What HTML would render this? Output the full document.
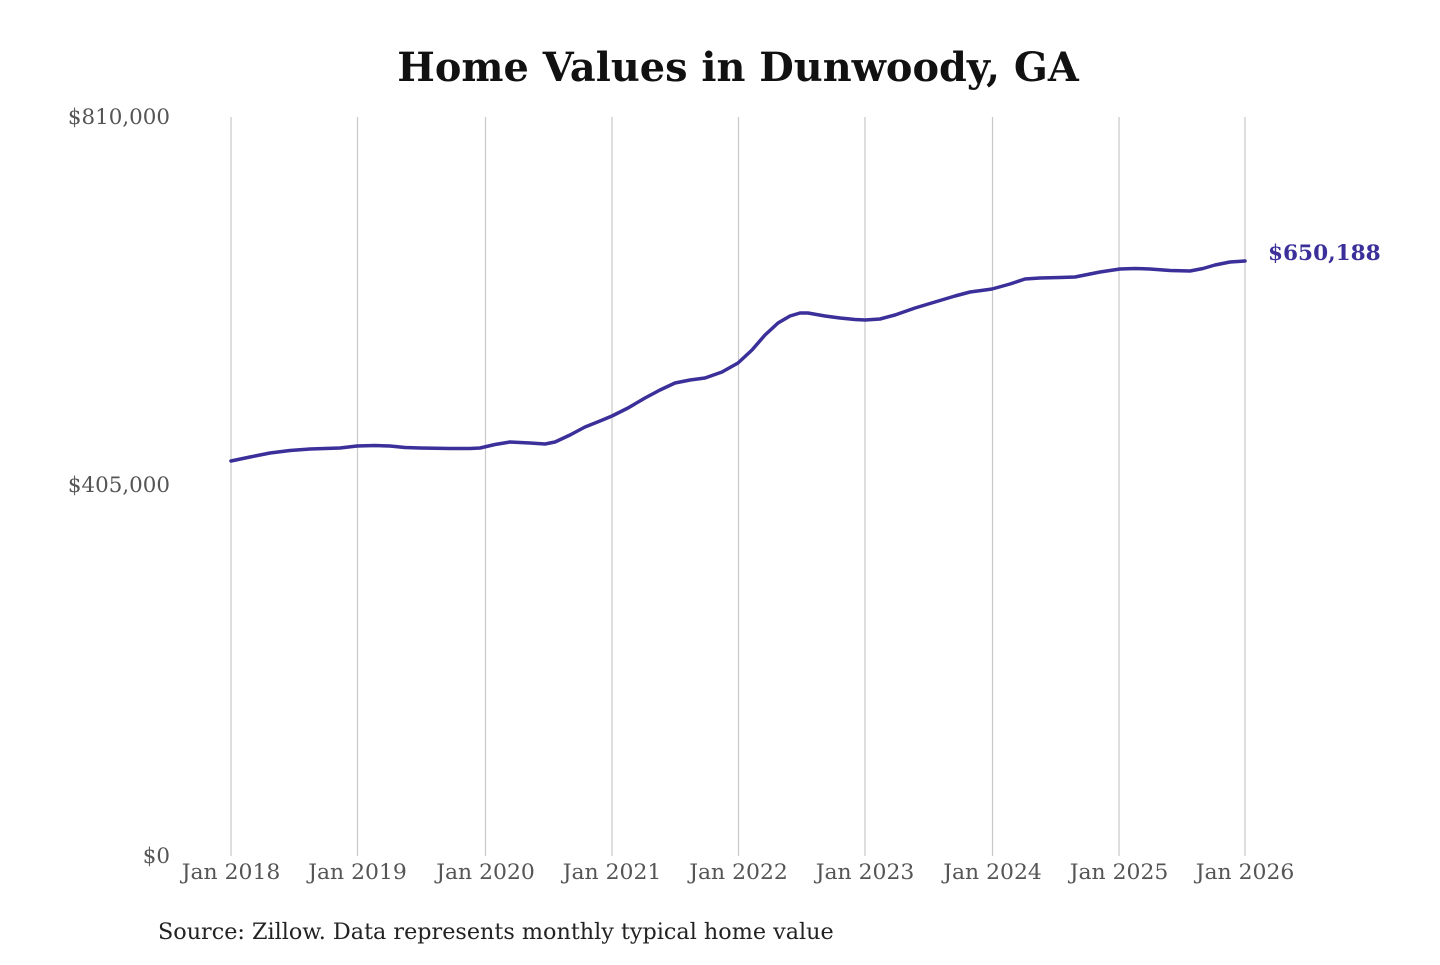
<!DOCTYPE html>
<html><head><meta charset="utf-8"><style>
html,body{margin:0;padding:0;background:#fff;}
</style></head><body>
<svg width="1440" height="960" xmlns="http://www.w3.org/2000/svg" font-family="'DejaVu Serif','Liberation Serif',serif">
<rect width="1440" height="960" fill="#fff"/>
<text x="738" y="81" text-anchor="middle" font-size="39.8" font-weight="bold" fill="#111">Home Values in Dunwoody, GA</text>
<g stroke="#c8c8c8" stroke-width="1.2">
<line x1="231" y1="117" x2="231" y2="856"/>
<line x1="357.5" y1="117" x2="357.5" y2="856"/>
<line x1="485.5" y1="117" x2="485.5" y2="856"/>
<line x1="612" y1="117" x2="612" y2="856"/>
<line x1="738.5" y1="117" x2="738.5" y2="856"/>
<line x1="865" y1="117" x2="865" y2="856"/>
<line x1="992.5" y1="117" x2="992.5" y2="856"/>
<line x1="1119" y1="117" x2="1119" y2="856"/>
<line x1="1245" y1="117" x2="1245" y2="856"/>
</g>
<g font-size="21.4" fill="#555" text-anchor="end">
<text x="170" y="124">$810,000</text>
<text x="170" y="492">$405,000</text>
<text x="170" y="863">$0</text>
</g>
<g font-size="21.9" fill="#555" text-anchor="middle">
<text x="231" y="879">Jan 2018</text>
<text x="357.5" y="879">Jan 2019</text>
<text x="485.5" y="879">Jan 2020</text>
<text x="612" y="879">Jan 2021</text>
<text x="738.5" y="879">Jan 2022</text>
<text x="865" y="879">Jan 2023</text>
<text x="992.5" y="879">Jan 2024</text>
<text x="1119" y="879">Jan 2025</text>
<text x="1245" y="879">Jan 2026</text>
</g>
<polyline fill="none" stroke="#3b2f9a" stroke-width="3.5" stroke-linejoin="round" stroke-linecap="round"
points="231,461 250,457 270,453 290,450.5 310,449 340,448 357,446 375,445.5 390,446 405,447.5 420,448 450,448.5 470,448.5 480,448 495,444.5 510,442 530,443 545,444 555,442 570,435 585,427 600,421 612,416 628,408 645,398 660,390 675,383 690,380 705,378 722,372 738,363 752,350 765,335 778,323 790,316 800,313 808,313 825,316 840,318 855,319.5 865,320 880,319 895,315 915,308 935,302 955,296 970,292 985,290 992,289 1010,284 1025,279 1040,278 1060,277.5 1075,277 1090,274 1100,272 1120,269 1135,268.5 1150,269 1170,270.5 1190,271 1203,268.5 1215,265 1230,262 1245,261"/>
<text x="1268" y="260" font-size="21.6" font-weight="bold" fill="#3b2f9a">$650,188</text>
<text x="158" y="939" font-size="22.3" fill="#222">Source: Zillow. Data represents monthly typical home value</text>
</svg>
</body></html>
